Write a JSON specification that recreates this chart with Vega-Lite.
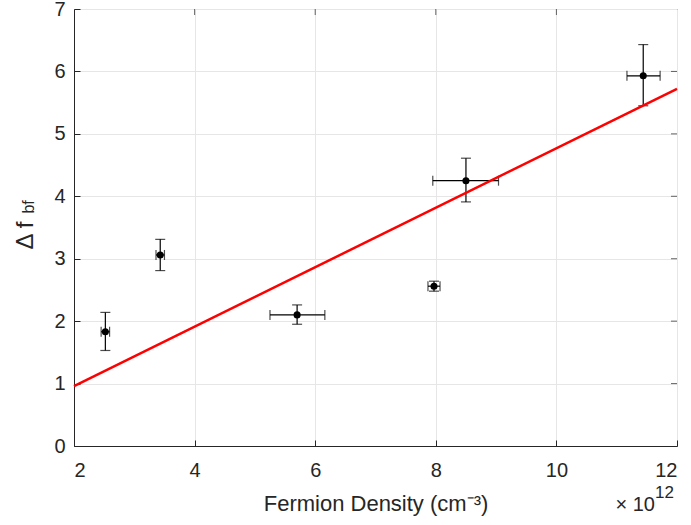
{
  "$schema": "https://vega.github.io/schema/vega-lite/v6.json",
  "autosize": "none",
  "width": 603,
  "height": 437,
  "padding": {"left": 74, "top": 9, "right": 14, "bottom": 79},
  "background": "white",
  "config": {
    "font": "Liberation Sans",
    "view": {"stroke": "#262626", "strokeWidth": 1},
    "axis": {
      "domainColor": "#262626",
      "tickColor": "#262626",
      "labelColor": "#262626",
      "titleColor": "#262626",
      "labelFont": "Liberation Sans",
      "titleFont": "Liberation Sans",
      "titleFontWeight": "normal",
      "gridColor": "#e6e6e6",
      "gridWidth": 1
    }
  },
  "datasets": {
    "pts": [
      {"x": 2.52, "y": 1.83, "ylo": 1.53, "yhi": 2.14, "xlo": 2.45, "xhi": 2.59},
      {"x": 3.43, "y": 3.06, "ylo": 2.81, "yhi": 3.31, "xlo": 3.36, "xhi": 3.50},
      {"x": 5.70, "y": 2.10, "ylo": 1.95, "yhi": 2.26, "xlo": 5.25, "xhi": 6.16},
      {"x": 7.97, "y": 2.56, "ylo": 2.48, "yhi": 2.64, "xlo": 7.87, "xhi": 8.07},
      {"x": 8.50, "y": 4.25, "ylo": 3.91, "yhi": 4.61, "xlo": 7.95, "xhi": 9.04},
      {"x": 11.44, "y": 5.93, "ylo": 5.45, "yhi": 6.43, "xlo": 11.17, "xhi": 11.72}
    ],
    "fit": [
      {"x": 2, "y": 0.96},
      {"x": 12, "y": 5.72}
    ],
    "xticks": [{"v": 4}, {"v": 6}, {"v": 8}, {"v": 10}],
    "yticks": [{"v": 1}, {"v": 2}, {"v": 3}, {"v": 4}, {"v": 5}, {"v": 6}],
    "labels": [
      {"x": 11.635, "y": -1.041, "t": "× 10", "kind": "exp"},
      {"x": 11.635, "y": -0.833, "t": "12", "kind": "sup"},
      {"x": 1.337, "y": 3.83, "t": "bf", "kind": "sub"}
    ]
  },
  "encoding": {
    "x": {
      "type": "quantitative",
      "scale": {"domain": [2, 12], "nice": false, "zero": false},
      "axis": {
        "values": [2, 4, 6, 8, 10, 12],
        "title": "Fermion Density (cm⁻³)",
        "titleFontSize": 22,
        "titleX": 301.5,
        "titleY": 64,
        "titleAlign": "center",
        "titleBaseline": "alphabetic",
        "labelFontSize": 20,
        "tickSize": -6,
        "labelPadding": 20,
        "grid": true
      }
    },
    "y": {
      "type": "quantitative",
      "scale": {"domain": [0, 7], "nice": false, "zero": false},
      "axis": {
        "values": [0, 1, 2, 3, 4, 5, 6, 7],
        "title": "Δ f",
        "titleFontSize": 24,
        "titleX": -42,
        "titleY": 226,
        "titleAngle": 270,
        "titleAlign": "center",
        "titleBaseline": "alphabetic",
        "labelFontSize": 20,
        "tickSize": -6,
        "labelPadding": 15,
        "grid": true
      }
    }
  },
  "layer": [
    {
      "data": {"name": "xticks"},
      "mark": {"type": "tick", "orient": "vertical", "size": 6, "thickness": 1, "color": "#262626", "yOffset": 3},
      "encoding": {
        "x": {"field": "v"},
        "y": {"datum": 7}
      }
    },
    {
      "data": {"name": "yticks"},
      "mark": {"type": "tick", "orient": "horizontal", "size": 6, "thickness": 1, "color": "#262626", "xOffset": -3},
      "encoding": {
        "y": {"field": "v"},
        "x": {"datum": 12}
      }
    },
    {
      "data": {"name": "pts"},
      "mark": {"type": "errorbar", "ticks": {"size": 10, "color": "black"}, "color": "black", "thickness": 1.2},
      "encoding": {
        "x": {"field": "x"},
        "y": {"field": "ylo"},
        "y2": {"field": "yhi"}
      }
    },
    {
      "data": {"name": "pts"},
      "mark": {"type": "errorbar", "ticks": {"size": 10, "color": "black"}, "color": "black", "thickness": 1.2},
      "encoding": {
        "y": {"field": "y"},
        "x": {"field": "xlo"},
        "x2": {"field": "xhi"}
      }
    },
    {
      "data": {"name": "fit"},
      "mark": {"type": "line", "color": "#ff0000", "strokeWidth": 2.5},
      "encoding": {
        "x": {"field": "x"},
        "y": {"field": "y"}
      }
    },
    {
      "data": {"name": "pts"},
      "mark": {"type": "point", "filled": true, "color": "black", "opacity": 1, "size": 50},
      "encoding": {
        "x": {"field": "x"},
        "y": {"field": "y"}
      }
    },
    {
      "data": {"name": "labels"},
      "transform": [{"filter": "datum.kind == 'exp'"}],
      "mark": {"type": "text", "align": "right", "baseline": "alphabetic", "fontSize": 20, "color": "#262626", "font": "Liberation Sans"},
      "encoding": {
        "x": {"field": "x"},
        "y": {"field": "y"},
        "text": {"field": "t"}
      }
    },
    {
      "data": {"name": "labels"},
      "transform": [{"filter": "datum.kind == 'sup'"}],
      "mark": {"type": "text", "align": "left", "baseline": "alphabetic", "fontSize": 17, "color": "#262626", "font": "Liberation Sans"},
      "encoding": {
        "x": {"field": "x"},
        "y": {"field": "y"},
        "text": {"field": "t"}
      }
    },
    {
      "data": {"name": "labels"},
      "transform": [{"filter": "datum.kind == 'sub'"}],
      "mark": {"type": "text", "align": "center", "baseline": "alphabetic", "fontSize": 16, "angle": 270, "color": "#262626", "font": "Liberation Sans"},
      "encoding": {
        "x": {"field": "x"},
        "y": {"field": "y"},
        "text": {"field": "t"}
      }
    }
  ]
}
